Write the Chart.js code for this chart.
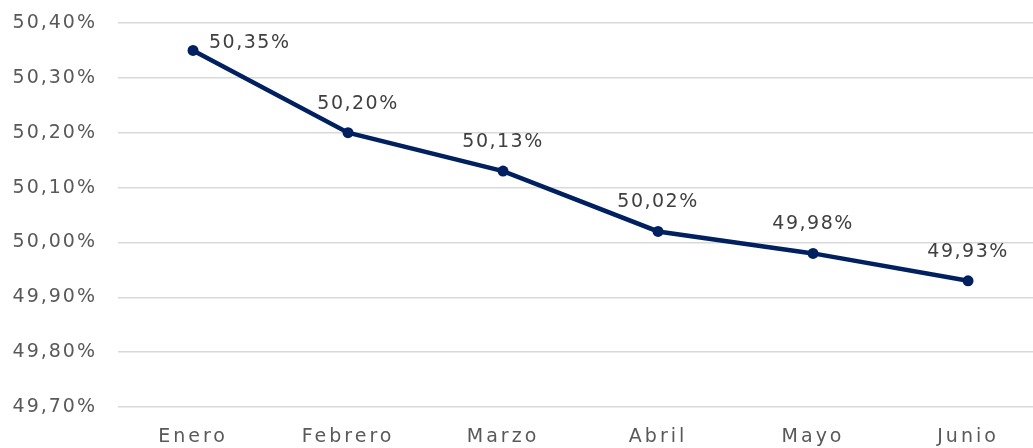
<!DOCTYPE html>
<html>
<head>
<meta charset="utf-8">
<script src="https://cdn.jsdelivr.net/npm/chart.js@4"></script>
<style>
  html, body { margin: 0; padding: 0; background: #fff; overflow: hidden; }
  #wrap { width: 1033px; height: 448px; }
</style>
</head>
<body>
<div id="wrap"><canvas id="chart" width="1033" height="448"></canvas></div>
<script>
// Data
const months = ['Enero', 'Febrero', 'Marzo', 'Abril', 'Mayo', 'Junio'];
const values = [50.35, 50.20, 50.13, 50.02, 49.98, 49.93];
const yTicks = [49.70, 49.80, 49.90, 50.00, 50.10, 50.20, 50.30, 50.40];

const FONT = '"DejaVu Sans", sans-serif';
const fmt = v => v.toFixed(2).replace('.', ',') + '%';

// Letter spacing per text group: y ticks (before datasets), value labels, then month ticks (ticks.z = 1)
const valueLabels = {
  id: 'valueLabels',
  beforeDraw(chart) { chart.ctx.letterSpacing = '2px'; },
  afterDatasetsDraw(chart) {
    const ctx = chart.ctx;
    const meta = chart.getDatasetMeta(0);
    ctx.save();
    ctx.letterSpacing = '1.5px';
    ctx.font = '19px ' + FONT;
    ctx.fillStyle = '#404040';
    ctx.textBaseline = 'middle';
    meta.data.forEach((pt, i) => {
      const text = fmt(values[i]);
      if (i === 0) {
        ctx.textAlign = 'left';
        ctx.fillText(text, pt.x + 16, pt.y - 7);
      } else {
        ctx.textAlign = 'center';
        const dx = i === 1 ? 10 : 0;
        ctx.fillText(text, pt.x + dx, pt.y - 29);
      }
    });
    ctx.restore();
    ctx.letterSpacing = '3px';
  },
  afterDraw(chart) { chart.ctx.letterSpacing = '0px'; }
};

const ctx = document.getElementById('chart').getContext('2d');
new Chart(ctx, {
  type: 'line',
  data: {
    datasets: [{
      data: values.map((v, i) => ({ x: i, y: v })),
      borderColor: '#002060',
      backgroundColor: '#002060',
      borderWidth: 4.5,
      pointRadius: 5.5,
      pointBackgroundColor: '#002060',
      pointBorderWidth: 0,
      tension: 0,
      fill: false
    }]
  },
  options: {
    responsive: false,
    animation: false,
    layout: { autoPadding: false, padding: { top: 23, right: 0, bottom: 0, left: 0 } },
    plugins: {
      legend: { display: false },
      tooltip: { enabled: false }
    },
    scales: {
      x: {
        type: 'linear',
        min: -0.484,
        max: 5.419,
        afterBuildTicks: scale => {
          scale.ticks = months.map((m, i) => ({ value: i }));
        },
        afterFit: scale => {
          scale.height = 41;
          scale.paddingLeft = 0;
          scale.paddingRight = 0;
        },
        grid: { display: false, drawTicks: false },
        border: { display: false },
        ticks: {
          z: 1,
          padding: 19,
          color: '#595959',
          font: { family: FONT, size: 19 },
          maxRotation: 0,
          autoSkip: false,
          callback: v => months[v]
        }
      },
      y: {
        min: 49.70,
        max: 50.40,
        afterBuildTicks: scale => {
          scale.ticks = yTicks.map(v => ({ value: v }));
        },
        afterFit: scale => {
          scale.width = 118;
          scale.paddingTop = 0;
          scale.paddingBottom = 0;
        },
        grid: { color: '#d9d9d9', lineWidth: 1.5, drawTicks: false },
        border: { display: false },
        ticks: {
          padding: 21,
          color: '#595959',
          font: { family: FONT, size: 19 },
          callback: v => fmt(v)
        }
      }
    }
  },
  plugins: [valueLabels]
});
</script>
</body>
</html>
